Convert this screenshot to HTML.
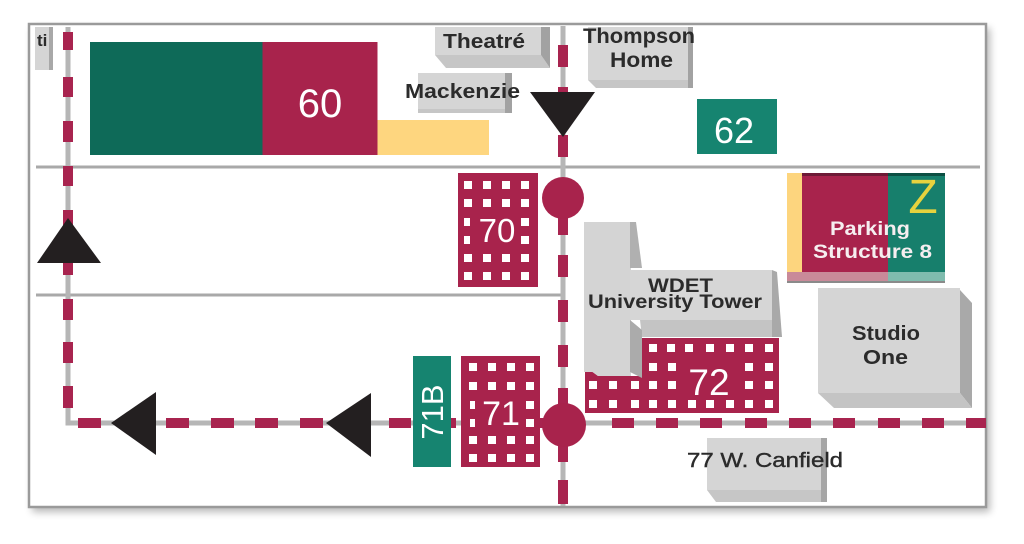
<!DOCTYPE html>
<html>
<head>
<meta charset="utf-8">
<style>
  html,body{margin:0;padding:0;background:#fff;}
  svg{display:block;}
  .lbl{font-family:"Liberation Sans",Arial,sans-serif;font-weight:bold;fill:#2b2b2b;}
  .num{font-family:"Liberation Sans",Arial,sans-serif;fill:#fff;}
</style>
</head>
<body>
<svg width="1024" height="544" viewBox="0 0 1024 544" xmlns="http://www.w3.org/2000/svg">
  <defs>
    <filter id="sh" x="-5%" y="-5%" width="110%" height="115%">
      <feGaussianBlur stdDeviation="4"/>
    </filter>
  </defs>
  <rect x="0" y="0" width="1024" height="544" fill="#fff"/>
  <!-- frame shadow -->
  <rect x="32" y="28" width="958" height="484" fill="#000" opacity="0.28" filter="url(#sh)"/>
  <rect x="29" y="24" width="957" height="483" fill="#fff" stroke="#9a9a9a" stroke-width="2.5"/>

  <!-- roads -->
  <line x1="36" y1="167" x2="980" y2="167" stroke="#a9a9a9" stroke-width="3"/>
  <line x1="36" y1="295" x2="563" y2="295" stroke="#a9a9a9" stroke-width="3"/>

  <!-- route gray lines -->
  <polyline points="68,27 68,423 986,423" fill="none" stroke="#b6b6b6" stroke-width="5"/>
  <line x1="563" y1="26" x2="563" y2="506" stroke="#b6b6b6" stroke-width="5"/>

  <!-- left vertical dashes -->
  <g fill="#a8244f">
    <rect x="63" y="32" width="10" height="18"/>
    <rect x="63" y="77" width="10" height="20"/>
    <rect x="63" y="121" width="10" height="21"/>
    <rect x="63" y="166" width="10" height="20"/>
    <rect x="63" y="210" width="10" height="20"/>
    <rect x="63" y="255" width="10" height="20"/>
    <rect x="63" y="299" width="10" height="21"/>
    <rect x="63" y="342" width="10" height="21"/>
    <rect x="63" y="386" width="10" height="22"/>
  </g>
  <!-- bottom route dashes -->
  <g fill="#a8244f">
    <rect x="78" y="418" width="23" height="10"/>
    <rect x="122" y="418" width="23" height="10"/>
    <rect x="166" y="418" width="23" height="10"/>
    <rect x="211" y="418" width="23" height="10"/>
    <rect x="255" y="418" width="23" height="10"/>
    <rect x="300" y="418" width="23" height="10"/>
    <rect x="344" y="418" width="23" height="10"/>
    <rect x="389" y="418" width="22" height="10"/>
    <rect x="433" y="418" width="23" height="10"/>
    <rect x="522" y="418" width="23" height="10"/>
    <rect x="612" y="418" width="22" height="10"/>
    <rect x="656" y="418" width="22" height="10"/>
    <rect x="700" y="418" width="22" height="10"/>
    <rect x="745" y="418" width="22" height="10"/>
    <rect x="789" y="418" width="22" height="10"/>
    <rect x="833" y="418" width="22" height="10"/>
    <rect x="878" y="418" width="22" height="10"/>
    <rect x="922" y="418" width="22" height="10"/>
    <rect x="966" y="418" width="20" height="10"/>
  </g>
  <!-- main vertical dashes -->
  <g fill="#a8244f">
    <rect x="558" y="45" width="10" height="22"/>
    <rect x="558" y="87" width="10" height="22"/>
    <rect x="558" y="135" width="10" height="22"/>
    <rect x="558" y="213" width="10" height="22"/>
    <rect x="558" y="255" width="10" height="22"/>
    <rect x="558" y="300" width="10" height="22"/>
    <rect x="558" y="345" width="10" height="22"/>
    <rect x="558" y="388" width="10" height="22"/>
    <rect x="558" y="440" width="10" height="22"/>
    <rect x="558" y="480" width="10" height="24"/>
  </g>

  <!-- ti box -->
  <rect x="35" y="27" width="15" height="43" fill="#d5d5d5"/>
  <rect x="49" y="27" width="4" height="43" fill="#a8a8a8"/>
  <text class="lbl" x="37" y="46" font-size="17">ti</text>

  <!-- Theatre -->
  <rect x="435" y="27" width="106" height="28" fill="#d6d6d6"/>
  <polygon points="435,55 541,55 550,68 446,68" fill="#c6c6c6"/>
  <polygon points="541,27 550,27 550,68 541,55" fill="#a2a2a2"/>
  <text class="lbl" x="443" y="48" font-size="20" textLength="82" lengthAdjust="spacingAndGlyphs">Theatré</text>

  <!-- Mackenzie -->
  <rect x="418" y="73" width="88" height="36" fill="#d5d5d5"/>
  <rect x="418" y="109" width="94" height="4" fill="#c6c6c6"/>
  <rect x="505" y="73" width="7" height="40" fill="#a2a2a2"/>
  <text class="lbl" x="405" y="98" font-size="20" textLength="115" lengthAdjust="spacingAndGlyphs">Mackenzie</text>

  <!-- Thompson Home -->
  <rect x="588" y="27" width="100" height="53" fill="#d6d6d6"/>
  <polygon points="588,80 688,80 693,88 596,88" fill="#c6c6c6"/>
  <rect x="688" y="27" width="5" height="61" fill="#a2a2a2"/>
  <text class="lbl" x="583" y="43" font-size="21" textLength="112" lengthAdjust="spacingAndGlyphs">Thompson</text>
  <text class="lbl" x="610" y="67" font-size="21" textLength="63" lengthAdjust="spacingAndGlyphs">Home</text>

  <!-- Building 60 -->
  <rect x="90" y="42" width="173" height="113" fill="#0e6a58"/>
  <rect x="262.5" y="42" width="115" height="113" fill="#a8234c"/>
  <rect x="377.5" y="120" width="111.5" height="35" fill="#fed67f"/>
  <text class="num" x="320" y="117" font-size="40" text-anchor="middle">60</text>

  <!-- 62 -->
  <rect x="697" y="99" width="80" height="55" fill="#168470"/>
  <text class="num" x="734" y="143" font-size="36" text-anchor="middle">62</text>

  <!-- Building 70 -->
  <rect x="458" y="173" width="80" height="114" fill="#a8234c"/>
  <g fill="#fff">
    <rect x="464" y="181" width="8" height="8"/><rect x="483" y="181" width="8" height="8"/><rect x="502" y="181" width="8" height="8"/><rect x="521" y="181" width="8" height="8"/>
    <rect x="464" y="199" width="8" height="8"/><rect x="483" y="199" width="8" height="8"/><rect x="502" y="199" width="8" height="8"/><rect x="521" y="199" width="8" height="8"/>
    <rect x="464" y="218" width="6" height="8"/><rect x="521" y="218" width="8" height="8"/>
    <rect x="464" y="236" width="6" height="8"/><rect x="521" y="236" width="8" height="8"/>
    <rect x="464" y="254" width="8" height="8"/><rect x="483" y="254" width="8" height="8"/><rect x="502" y="254" width="8" height="8"/><rect x="521" y="254" width="8" height="8"/>
    <rect x="464" y="272" width="8" height="8"/><rect x="483" y="272" width="8" height="8"/><rect x="502" y="272" width="8" height="8"/><rect x="521" y="272" width="8" height="8"/>
  </g>
  <text class="num" x="497" y="242" font-size="33" text-anchor="middle">70</text>

  <!-- Parking Structure 8 -->
  <rect x="787" y="173" width="15" height="109" fill="#fdd57e"/>
  <rect x="802" y="173" width="86" height="109" fill="#a8234c"/>
  <rect x="888" y="173" width="57" height="109" fill="#177f6c"/>
  <rect x="802" y="173" width="86" height="3" fill="#6e1a36"/>
  <rect x="888" y="173" width="57" height="3" fill="#0c4f43"/>
  <rect x="787" y="272" width="101" height="10" fill="#c98a99"/>
  <rect x="888" y="272" width="57" height="10" fill="#7fbcae"/>
  <rect x="787" y="281" width="158" height="2" fill="#8a8a8a"/>
  <text x="923" y="213" font-family="Liberation Sans, Arial, sans-serif" font-size="48" fill="#e6d23e" text-anchor="middle">Z</text>
  <text class="lbl" x="830" y="235" font-size="19" fill="#f6eef0" style="fill:#f6eef0" textLength="80" lengthAdjust="spacingAndGlyphs">Parking</text>
  <text class="lbl" x="813" y="258" font-size="19" style="fill:#f6eef0" textLength="119" lengthAdjust="spacingAndGlyphs">Structure 8</text>

  <!-- Studio One -->
  <rect x="818" y="288" width="142" height="105" fill="#d5d5d5"/>
  <polygon points="960,290 972,303 972,408 960,393" fill="#a9a9a9"/>
  <polygon points="818,393 960,393 972,408 834,408" fill="#c4c4c4"/>
  <text class="lbl" x="852" y="340" font-size="20" textLength="68" lengthAdjust="spacingAndGlyphs">Studio</text>
  <text class="lbl" x="863" y="364" font-size="20" textLength="45" lengthAdjust="spacingAndGlyphs">One</text>

  <!-- WDET / University Tower -->
  <polygon points="642,338 779,338 779,413 585,413 585,366 598,376 642,376" fill="#a8234c"/>
  <rect x="584" y="222" width="47" height="150" fill="#d4d4d4"/>
  <polygon points="584,362 631,362 631,376 598,376 584,366" fill="#d4d4d4"/>
  <polygon points="630,222 636,222 642,268 630,268" fill="#b0b0b0"/>
  <rect x="630" y="270" width="142" height="50" fill="#d6d6d6"/>
  <polygon points="640,320 772,320 780,337 642,337" fill="#c4c4c4"/>
  <polygon points="772,270 777,272 782,337 772,337" fill="#a9a9a9"/>
  <polygon points="630,320 642,330 642,378 630,372" fill="#ababab"/>
  <text class="lbl" x="648" y="292" font-size="19" textLength="65" lengthAdjust="spacingAndGlyphs">WDET</text>
  <text class="lbl" x="588" y="308" font-size="19" textLength="174" lengthAdjust="spacingAndGlyphs">University Tower</text>
  <g fill="#fff">
    <rect x="649" y="344" width="8" height="8"/><rect x="667" y="344" width="8" height="8"/><rect x="685" y="344" width="8" height="8"/><rect x="706" y="344" width="8" height="8"/><rect x="726" y="344" width="8" height="8"/><rect x="745" y="344" width="8" height="8"/><rect x="765" y="344" width="8" height="8"/>
    <rect x="649" y="363" width="8" height="8"/><rect x="668" y="363" width="8" height="8"/><rect x="745" y="363" width="8" height="8"/><rect x="765" y="363" width="8" height="8"/>
    <rect x="589" y="381" width="8" height="8"/><rect x="609" y="381" width="8" height="8"/><rect x="631" y="381" width="8" height="8"/><rect x="649" y="381" width="8" height="8"/><rect x="668" y="381" width="8" height="8"/><rect x="745" y="381" width="8" height="8"/><rect x="765" y="381" width="8" height="8"/>
    <rect x="589" y="400" width="8" height="8"/><rect x="609" y="400" width="8" height="8"/><rect x="631" y="400" width="8" height="8"/><rect x="649" y="400" width="8" height="8"/><rect x="668" y="400" width="8" height="8"/><rect x="688" y="400" width="8" height="8"/><rect x="706" y="400" width="8" height="8"/><rect x="726" y="400" width="8" height="8"/><rect x="745" y="400" width="8" height="8"/><rect x="765" y="400" width="8" height="8"/>
  </g>
  <text class="num" x="709" y="395" font-size="37" text-anchor="middle">72</text>

  <!-- 71B -->
  <rect x="413" y="356" width="38" height="111" fill="#168470"/>
  <text class="num" transform="translate(432,412) rotate(-90)" x="0" y="11" font-size="31" text-anchor="middle">71B</text>

  <!-- Building 71 -->
  <rect x="461" y="356" width="79" height="111" fill="#a8234c"/>
  <g fill="#fff">
    <rect x="469" y="363" width="8" height="8"/><rect x="488" y="363" width="8" height="8"/><rect x="507" y="363" width="8" height="8"/><rect x="526" y="363" width="8" height="8"/>
    <rect x="469" y="382" width="8" height="8"/><rect x="488" y="382" width="8" height="8"/><rect x="507" y="382" width="8" height="8"/><rect x="526" y="382" width="8" height="8"/>
    <rect x="470" y="401" width="5" height="8"/><rect x="526" y="401" width="8" height="8"/>
    <rect x="470" y="419" width="5" height="8"/><rect x="526" y="419" width="8" height="8"/>
    <rect x="469" y="436" width="8" height="8"/><rect x="488" y="436" width="8" height="8"/><rect x="507" y="436" width="8" height="8"/><rect x="526" y="436" width="8" height="8"/>
    <rect x="469" y="454" width="8" height="8"/><rect x="488" y="454" width="8" height="8"/><rect x="507" y="454" width="8" height="8"/><rect x="526" y="454" width="8" height="8"/>
  </g>
  <text class="num" x="501" y="425" font-size="34" text-anchor="middle">71</text>

  <!-- 77 W. Canfield -->
  <rect x="707" y="438" width="114" height="52" fill="#d5d5d5"/>
  <polygon points="707,490 821,490 827,502 716,502" fill="#c6c6c6"/>
  <rect x="821" y="438" width="6" height="64" fill="#a6a6a6"/>
  <text class="lbl" x="687" y="467" font-size="20" style="font-weight:normal;fill:#2b2b2b" stroke="#2b2b2b" stroke-width="0.4" textLength="156" lengthAdjust="spacingAndGlyphs">77 W. Canfield</text>

  <!-- circles -->
  <circle cx="563" cy="198" r="21" fill="#a8234c"/>
  <circle cx="564" cy="425" r="22" fill="#a8234c"/>

  <!-- triangles -->
  <g fill="#231f20">
    <polygon points="530,92 595,92 563,137"/>
    <polygon points="68,218 37,263 101,263"/>
    <polygon points="111,423 156,392 156,455"/>
    <polygon points="326,423 371,393 371,457"/>
  </g>
</svg>
</body>
</html>
